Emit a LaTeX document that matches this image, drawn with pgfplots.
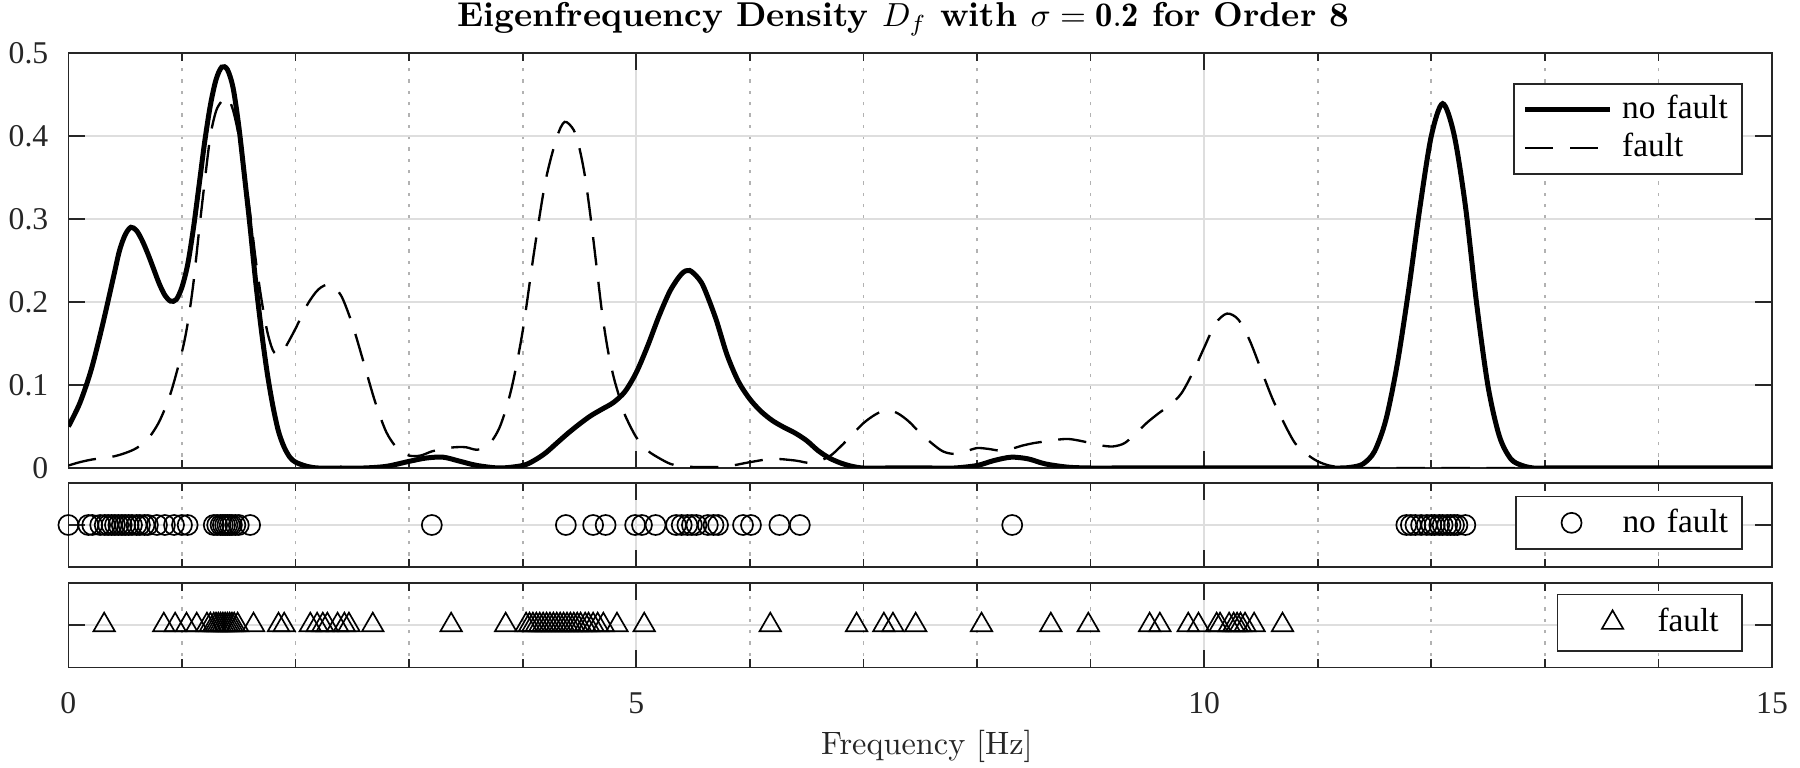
\documentclass[border=0pt]{standalone}
\usepackage{fontspec}
\usepackage{pgfplots}
\pgfplotsset{compat=1.18}
\newfontfamily\tnr{Liberation Serif}
\definecolor{axgray}{gray}{0.15}
\definecolor{gridgray}{gray}{0.87}
\definecolor{mgridgray}{gray}{0.70}

\pgfplotstableread{
x y
0 0.050
0.1 0.078
0.2 0.118
0.3 0.172
0.4 0.232
0.45 0.262
0.5 0.281
0.55 0.290
0.6 0.286
0.65 0.274
0.7 0.258
0.75 0.240
0.8 0.222
0.85 0.208
0.9 0.201
0.95 0.203
1.0 0.218
1.05 0.245
1.1 0.288
1.15 0.340
1.2 0.393
1.25 0.437
1.3 0.468
1.35 0.483
1.4 0.480
1.45 0.458
1.5 0.412
1.55 0.352
1.6 0.290
1.65 0.223
1.7 0.165
1.75 0.115
1.8 0.075
1.85 0.044
1.9 0.025
1.95 0.013
2.0 0.007
2.1 0.002
2.2 0.000
2.4 0.000
2.6 0.000
2.8 0.002
3.0 0.008
3.15 0.012
3.3 0.013
3.45 0.008
3.6 0.003
3.8 0.000
4.0 0.003
4.1 0.009
4.2 0.018
4.3 0.030
4.4 0.042
4.5 0.053
4.6 0.063
4.7 0.071
4.8 0.079
4.9 0.092
5.0 0.115
5.1 0.147
5.2 0.183
5.3 0.214
5.4 0.234
5.47 0.238
5.55 0.228
5.6 0.216
5.7 0.180
5.8 0.136
5.9 0.104
6.0 0.083
6.1 0.068
6.2 0.057
6.3 0.049
6.4 0.042
6.5 0.033
6.6 0.021
6.7 0.012
6.8 0.006
6.9 0.002
7.0 0.000
7.2 0.000
7.4 0.000
7.6 0.000
7.8 0.000
8.0 0.003
8.15 0.009
8.3 0.013
8.45 0.011
8.6 0.005
8.8 0.001
9.0 0.000
9.2 0.000
9.4 0.000
9.6 0.000
9.8 0.000
10.0 0.000
10.2 0.000
10.4 0.000
10.6 0.000
10.8 0.000
11.0 0.000
11.2 0.000
11.3 0.001
11.4 0.005
11.5 0.020
11.6 0.058
11.7 0.125
11.8 0.214
11.9 0.314
12.0 0.400
12.1 0.439
12.2 0.402
12.3 0.316
12.4 0.197
12.5 0.098
12.6 0.038
12.7 0.011
12.8 0.003
12.9 0.000
13.0 0.000
13.25 0.000
13.5 0.000
13.75 0.000
14.0 0.000
14.25 0.000
14.5 0.000
14.75 0.000
15.0 0.000
}\nofault

\pgfplotstableread{
x y
0 0.003
0.1 0.007
0.2 0.010
0.3 0.012
0.4 0.014
0.5 0.018
0.6 0.024
0.7 0.035
0.8 0.056
0.9 0.090
1.0 0.140
1.05 0.174
1.1 0.222
1.15 0.285
1.2 0.345
1.25 0.400
1.3 0.430
1.35 0.442
1.4 0.447
1.45 0.431
1.5 0.400
1.55 0.356
1.6 0.307
1.65 0.250
1.7 0.203
1.75 0.165
1.8 0.142
1.85 0.136
1.9 0.143
2.0 0.168
2.1 0.196
2.2 0.215
2.3 0.221
2.4 0.208
2.5 0.173
2.6 0.127
2.7 0.080
2.8 0.043
2.9 0.023
3.0 0.015
3.1 0.015
3.2 0.020
3.3 0.023
3.4 0.025
3.5 0.025
3.6 0.022
3.7 0.028
3.8 0.050
3.9 0.095
4.0 0.165
4.1 0.260
4.2 0.345
4.3 0.398
4.37 0.417
4.45 0.407
4.5 0.385
4.55 0.350
4.6 0.300
4.65 0.243
4.7 0.186
4.75 0.142
4.8 0.110
4.85 0.086
4.9 0.064
5.0 0.037
5.1 0.021
5.2 0.012
5.3 0.005
5.4 0.002
5.6 0.001
5.8 0.002
6.0 0.007
6.2 0.011
6.4 0.009
6.55 0.006
6.7 0.014
6.8 0.026
6.9 0.040
7.0 0.054
7.1 0.064
7.2 0.070
7.3 0.066
7.4 0.056
7.5 0.042
7.6 0.030
7.7 0.020
7.8 0.017
7.9 0.020
8.0 0.024
8.1 0.023
8.2 0.021
8.3 0.023
8.4 0.027
8.5 0.030
8.6 0.032
8.7 0.034
8.8 0.035
8.9 0.033
9.0 0.030
9.1 0.027
9.2 0.026
9.3 0.030
9.4 0.042
9.5 0.055
9.6 0.066
9.7 0.076
9.8 0.090
9.9 0.115
10.0 0.145
10.1 0.174
10.2 0.186
10.3 0.179
10.4 0.154
10.5 0.119
10.6 0.084
10.7 0.055
10.8 0.030
10.9 0.017
11.0 0.008
11.1 0.003
11.2 0.001
11.4 0.000
11.6 0.000
11.8 0.000
12.0 0.000
12.25 0.000
12.5 0.000
12.75 0.000
13.0 0.000
13.25 0.000
13.5 0.000
13.75 0.000
14.0 0.000
14.25 0.000
14.5 0.000
14.75 0.000
15.0 0.000
}\fault

\pgfplotstableread{
x y
0 0
0.175 0
0.21 0
0.28 0
0.32 0
0.35 0
0.38 0
0.41 0
0.44 0
0.47 0
0.50 0
0.53 0
0.56 0
0.60 0
0.63 0
0.67 0
0.70 0
0.78 0
0.85 0
0.93 0
1.00 0
1.05 0
1.28 0
1.31 0
1.34 0
1.36 0
1.38 0
1.40 0
1.42 0
1.44 0
1.47 0
1.50 0
1.60 0
3.20 0
4.38 0
4.62 0
4.73 0
4.99 0
5.05 0
5.17 0
5.35 0
5.40 0
5.45 0
5.49 0
5.53 0
5.63 0
5.68 0
5.72 0
5.94 0
6.01 0
6.26 0
6.44 0
8.31 0
11.78 0
11.82 0
11.86 0
11.91 0
11.96 0
12.00 0
12.03 0
12.07 0
12.10 0
12.14 0
12.17 0
12.20 0
12.23 0
12.30 0
}\nofaultpts

\pgfplotstableread{
x y
0.315 0
0.84 0
0.94 0
1.04 0
1.13 0
1.22 0
1.25 0
1.28 0
1.30 0
1.32 0
1.34 0
1.36 0
1.38 0
1.40 0
1.42 0
1.44 0
1.46 0
1.49 0
1.63 0
1.85 0
1.90 0
2.13 0
2.19 0
2.24 0
2.28 0
2.37 0
2.43 0
2.47 0
2.68 0
3.37 0
3.85 0
4.03 0
4.06 0
4.09 0
4.12 0
4.15 0
4.18 0
4.21 0
4.24 0
4.27 0
4.30 0
4.33 0
4.36 0
4.39 0
4.42 0
4.45 0
4.48 0
4.51 0
4.55 0
4.58 0
4.62 0
4.66 0
4.71 0
4.83 0
5.07 0
6.18 0
6.94 0
7.18 0
7.26 0
7.46 0
8.04 0
8.65 0
8.98 0
9.52 0
9.61 0
9.86 0
9.95 0
10.11 0
10.14 0
10.22 0
10.26 0
10.29 0
10.32 0
10.36 0
10.44 0
10.69 0
}\faultpts

\pgfplotsset{
  myaxis/.style={
    scale only axis, width=511.08pt, xmin=0, xmax=15,
    axis line style={axgray, line width=0.5pt},
    xtick={0,5,10,15}, minor x tick num=4,
    grid=both,
    major grid style={gridgray, line width=0.5pt},
    minor grid style={mgridgray, line width=0.5pt, dash pattern=on 1pt off 2.4pt},
    tick style={axgray, line width=0.5pt},
    major tick length=5.1pt, minor tick length=2.4pt,
    tick align=inside,
    ticklabel style={font=\tnr\fontsize{9.5}{11}\selectfont, text=axgray},
    /pgf/number format/assume math mode=true,
    clip=true,
  },
}

\begin{document}
\begin{tikzpicture}
\useasboundingbox (0,0) rectangle (540pt,230.1pt);

\begin{axis}[myaxis, at={(20.52pt,89.7pt)}, anchor=south west, height=124.5pt,
  ymin=0, ymax=0.5, ytick={0,0.1,0.2,0.3,0.4,0.5},
  yticklabels={0,0.1,0.2,0.3,0.4,0.5},
  yticklabel style={xshift=-2.5pt},
  xticklabels={},
  title={\textbf{Eigenfrequency Density $D_f$ with $\sigma = \mathbf{0.2}$ for Order 8}},
  title style={font=\fontsize{10.35}{12}\selectfont, at={(0.5,1)}, anchor=base, yshift=2.0pt, xshift=-5pt},
  legend style={at={(rel axis cs:0.983,0.928)}, anchor=north east, draw=axgray, line width=0.5pt,
    inner xsep=0pt, inner ysep=2.1pt, column sep=0pt, row sep=0pt,
    nodes={font=\tnr\fontsize{10}{12}\selectfont, inner xsep=3pt, inner ysep=0pt, text width=33pt, align=left, minimum height=11.4pt, text=black}},
  legend cell align=left,
  legend image code/.code={\path[draw=none] (0pt,0pt) -- (28.8pt,0pt); \draw[#1] (3.4pt,0pt) -- (28.8pt,0pt);},
]
\addplot[black, line width=1.5pt, smooth, tension=0.5] table {\nofault};
\addlegendentry{no fault}
\addplot[black, line width=0.7pt, dash pattern=on 8.5pt off 5pt, smooth, tension=0.5] table {\fault};
\addlegendentry{fault}
\end{axis}

\begin{axis}[myaxis, at={(20.52pt,60pt)}, anchor=south west, height=25.2pt,
  ymin=-1, ymax=1, ytick={0}, yticklabels={}, xticklabels={},
  legend style={at={(rel axis cs:0.983,0.849)}, anchor=north east, draw=axgray, line width=0.5pt,
    inner xsep=0pt, inner ysep=0pt, column sep=0pt,
    nodes={font=\tnr\fontsize{10}{12}\selectfont, inner xsep=3pt, inner ysep=0pt, text width=32.9pt, align=left, minimum height=15.8pt, text=black}},
  legend cell align=left,
  legend image code/.code={\path[draw=none] (0pt,0pt) -- (28.9pt,0pt); \draw[#1] plot[only marks] coordinates {(16.6pt,0pt)};},
]
\addplot[only marks, mark=o, mark size=3pt, black, line width=0.5pt] table {\nofaultpts};
\addlegendentry{no fault}
\end{axis}

\begin{axis}[myaxis, at={(20.52pt,29.9pt)}, anchor=south west, height=25.4pt,
  ymin=-1, ymax=1, ytick={0}, yticklabels={},
  xticklabel style={yshift=-4pt},
  xlabel={Frequency [Hz]},
  xlabel style={font=\fontsize{9.7}{11}\selectfont, text=axgray, yshift=2pt, xshift=2pt},
  legend style={at={(rel axis cs:0.983,0.872)}, anchor=north east, draw=axgray, line width=0.5pt,
    inner xsep=0pt, inner ysep=0pt, column sep=0pt,
    nodes={font=\tnr\fontsize{10}{12}\selectfont, inner xsep=3pt, inner ysep=0pt, text width=22.4pt, align=left, minimum height=17pt, text=black}},
  legend cell align=left,
  legend image code/.code={\path[draw=none] (0pt,0pt) -- (27pt,0pt); \draw[#1] plot[only marks] coordinates {(16.5pt,0pt)};},
]
\addplot[only marks, mark=triangle, mark size=3.7pt, black, line width=0.5pt] table {\faultpts};
\addlegendentry{fault}
\end{axis}
\end{tikzpicture}
\end{document}
